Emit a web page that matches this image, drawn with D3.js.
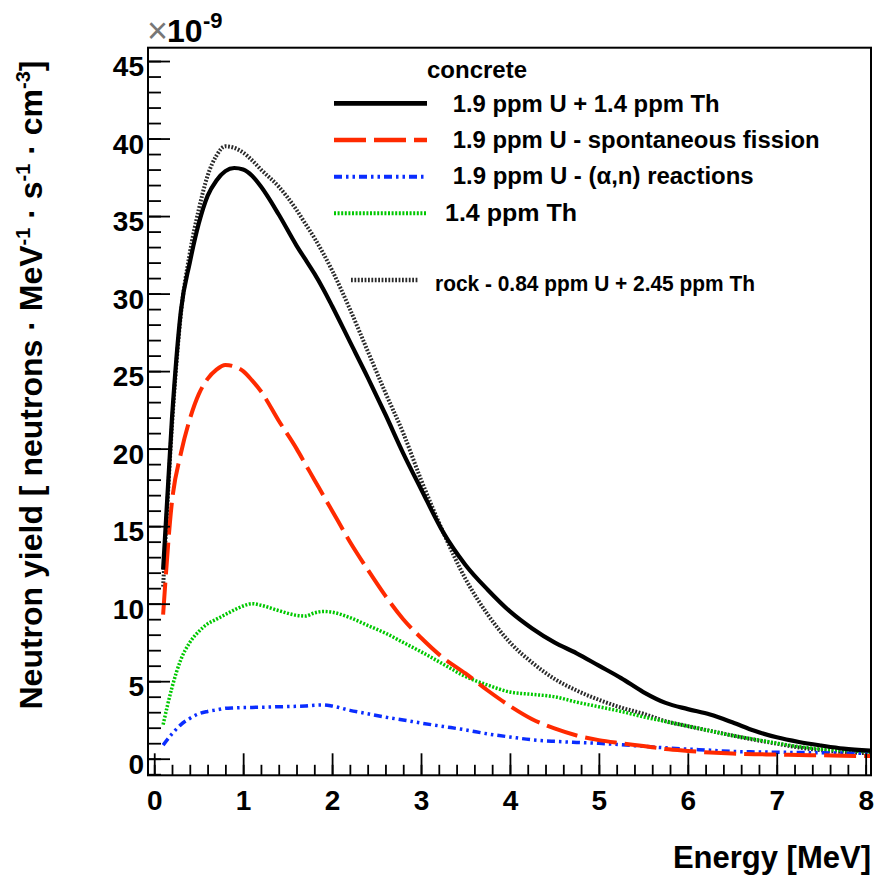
<!DOCTYPE html>
<html>
<head>
<meta charset="utf-8">
<script src="https://cdn.jsdelivr.net/npm/d3@7"></script>
<style>
  body { margin: 0; background: #fff; }
  text { font-family: "Liberation Sans", Arial, Helvetica, sans-serif; }
</style>
</head>
<body>
<div id="chart"></div>
<script>
// energy grid in MeV, values in 1e-9 neutrons / (MeV s cm^3)
const energy = [0.1, 0.2, 0.3, 0.4, 0.5, 0.6, 0.7, 0.8, 0.9, 1.0, 1.1, 1.2, 1.4, 1.6, 1.7, 1.8, 1.9, 2.0,
  2.2, 2.4, 2.6, 2.8, 3.0, 3.25, 3.5, 3.75, 4.0, 4.25, 4.5, 4.75, 5.0, 5.25, 5.5, 5.75, 6.0, 6.25,
  6.5, 6.75, 7.0, 7.25, 7.5, 7.75, 8.05]

const concreteTotal = [12.2, 22.0, 28.9, 32.0, 34.5, 36.3, 37.3, 37.9, 38.1, 38.0, 37.6, 36.9, 35.1, 33.1, 32.2, 31.3, 30.3, 29.2,
  26.9, 24.6, 22.2, 19.7, 17.4, 14.6, 12.5, 10.9, 9.5, 8.4, 7.5, 6.8, 6.0, 5.2, 4.3, 3.6, 3.2, 2.85,
  2.35, 1.8, 1.38, 1.08, 0.85, 0.65, 0.52]

const spontFission = [9.3, 16.6, 19.7, 21.9, 23.5, 24.5, 25.1, 25.4, 25.3, 25.0, 24.4, 23.7, 21.8, 20.0, 19.0, 18.0, 17.0, 16.0,
  14.0, 12.2, 10.5, 9.0, 7.8, 6.5, 5.5, 4.4, 3.4, 2.55, 1.95, 1.5, 1.2, 1.0, 0.82, 0.62, 0.5, 0.4,
  0.33, 0.29, 0.27, 0.24, 0.22, 0.19, 0.17]

const alphaN = [0.88, 1.6, 2.2, 2.6, 2.9, 3.05, 3.15, 3.25, 3.28, 3.3, 3.31, 3.32, 3.35, 3.38, 3.4, 3.45, 3.47, 3.4,
  3.12, 2.9, 2.68, 2.5, 2.3, 2.08, 1.86, 1.6, 1.4, 1.22, 1.12, 1.05, 0.99, 0.9, 0.8, 0.7, 0.62, 0.55,
  0.47, 0.44, 0.42, 0.4, 0.38, 0.36, 0.35]

const thorium = [2.2, 4.6, 6.4, 7.5, 8.2, 8.7, 9.0, 9.3, 9.6, 9.85, 10.0, 9.9, 9.55, 9.25, 9.2, 9.4, 9.5, 9.45,
  9.1, 8.6, 8.1, 7.5, 6.9, 6.1, 5.3, 4.75, 4.3, 4.15, 4.0, 3.65, 3.35, 3.05, 2.7, 2.4, 2.1, 1.8,
  1.5, 1.25, 1.0, 0.78, 0.62, 0.52, 0.45]

const rock = [11.1, 21.5, 28.7, 32.6, 35.4, 37.6, 38.9, 39.5, 39.4, 39.1, 38.6, 38.0, 36.9, 35.4, 34.5, 33.6, 32.6, 31.5,
  29.0, 26.3, 23.6, 21.0, 18.0, 14.6, 11.6, 9.3, 7.5, 6.2, 5.15, 4.4, 3.8, 3.3, 2.9, 2.42, 2.1, 1.8,
  1.5, 1.22, 0.97, 0.72, 0.55, 0.43, 0.35]

const xTicks = [0, 1, 2, 3, 4, 5, 6, 7, 8]
const yTicks = [0, 5, 10, 15, 20, 25, 30, 35, 40, 45]

const W = 874, H = 877
const frame = {left: 148, right: 871, top: 47.7, bottom: 775.3}

const svg = d3.select("#chart")
  .append("svg")
  .attr("width", W)
  .attr("height", H)

const x = d3.scaleLinear().domain([-0.07, 8.06]).range([frame.left, frame.right])
const y = d3.scaleLinear().domain([-1.07, 45.86]).range([frame.bottom, frame.top])

// series styles
const series = [
  {key: "rock", values: rock, color: "#2a2a2a", width: 4, dash: "1.8,1.6"},
  {key: "th", values: thorium, color: "#00c800", width: 3.5, dash: "2,1.6"},
  {key: "an", values: alphaN, color: "#0a2dff", width: 3.5, dash: "8,4,2.5,4,2.5,4"},
  {key: "sf", values: spontFission, color: "#ff2a00", width: 4, dash: "32,8"},
  {key: "total", values: concreteTotal, color: "#000", width: 4.2, dash: null}
]

svg.append("clipPath").attr("id", "clip")
  .append("rect")
  .attr("x", frame.left).attr("y", frame.top)
  .attr("width", frame.right - frame.left).attr("height", frame.bottom - frame.top)

const line = d3.line()
  .x((d, i) => x(energy[i]))
  .y(d => y(d))
  .curve(d3.curveMonotoneX)

const plot = svg.append("g").attr("clip-path", "url(#clip)")
series.forEach(s => {
  plot.append("path")
    .datum(s.values)
    .attr("fill", "none")
    .attr("stroke", s.color)
    .attr("stroke-width", s.width)
    .attr("stroke-dasharray", s.dash)
    .attr("d", line)
})

// x axis: ticks inside the frame, labels below
svg.append("g")
  .attr("transform", `translate(0,${frame.bottom})`)
  .call(d3.axisBottom(x).tickValues(d3.range(0, 8.01, 0.2)).tickSizeInner(-10.5).tickSizeOuter(0).tickFormat(""))
  .call(g => g.select(".domain").remove())
  .selectAll("line").attr("stroke-width", 1.8)

svg.append("g")
  .attr("transform", `translate(0,${frame.bottom})`)
  .call(d3.axisBottom(x).tickValues(xTicks).tickSizeInner(-22).tickSizeOuter(0).tickPadding(15).tickFormat(d3.format("d")))
  .call(g => g.select(".domain").remove())
  .call(g => g.selectAll("line").attr("stroke-width", 1.8))
  .selectAll("text")
    .attr("fill", "#000")
    .style("font-size", "28px")
    .style("font-weight", "bold")

// y axis
svg.append("g")
  .attr("transform", `translate(${frame.left},0)`)
  .call(d3.axisLeft(y).tickValues(d3.range(-1, 46, 1)).tickSizeInner(-13).tickSizeOuter(0).tickFormat(""))
  .call(g => g.select(".domain").remove())
  .selectAll("line").attr("stroke-width", 1.8)

svg.append("g")
  .attr("transform", `translate(${frame.left},0)`)
  .call(d3.axisLeft(y).tickValues(yTicks).tickSizeInner(-22).tickSizeOuter(0).tickPadding(4).tickFormat(d3.format("d")))
  .call(g => g.select(".domain").remove())
  .call(g => g.selectAll("line").attr("stroke-width", 1.8))
  .selectAll("text")
    .attr("fill", "#000")
    .attr("dy", "0.52em")
    .style("font-size", "28px")
    .style("font-weight", "bold")

// frame
svg.append("rect")
  .attr("x", frame.left).attr("y", frame.top)
  .attr("width", frame.right - frame.left).attr("height", frame.bottom - frame.top)
  .attr("fill", "none")
  .attr("stroke", "#000")
  .attr("stroke-width", 2)

// exponent
svg.append("text")
  .attr("x", 147).attr("y", 43)
  .style("font-size", "36px")
  .attr("fill", "#777")
  .text("×")
svg.append("text")
  .attr("x", 167).attr("y", 41.7)
  .style("font-size", "32px")
  .style("font-weight", "bold")
  .text("10")
svg.append("text")
  .attr("x", 203).attr("y", 28)
  .style("font-size", "22px")
  .style("font-weight", "bold")
  .text("-9")

// axis titles
svg.append("text")
  .attr("x", 871).attr("y", 868)
  .attr("text-anchor", "end")
  .style("font-size", "31px")
  .style("font-weight", "bold")
  .text("Energy [MeV]")

const yTitle = svg.append("text")
  .attr("transform", "translate(42,385) rotate(-90)")
  .attr("text-anchor", "middle")
  .style("font-size", "32px")
  .style("font-weight", "bold")
yTitle.append("tspan").text("Neutron yield  [ neutrons · MeV")
yTitle.append("tspan").attr("dy", -12).style("font-size", "20px").text("-1")
yTitle.append("tspan").attr("dy", 12).text(" · s")
yTitle.append("tspan").attr("dy", -12).style("font-size", "20px").text("-1")
yTitle.append("tspan").attr("dy", 12).text(" · cm")
yTitle.append("tspan").attr("dy", -12).style("font-size", "20px").text("-3")
yTitle.append("tspan").attr("dy", 12).text("]")

// legend
const legendRows = [
  {label: "1.9 ppm U + 1.4 ppm Th", s: series[4], x1: 334, x2: 427, ly: 103.3, tx: 452.7, ty: 111.7, len: 267, fs: 23.5},
  {label: "1.9 ppm U - spontaneous fission", s: series[3], x1: 334, x2: 427, ly: 140, tx: 452.7, ty: 148.3, len: 367, fs: 23.5},
  {label: "1.9 ppm U - (α,n) reactions", s: series[2], x1: 334, x2: 427, ly: 176.7, tx: 452.7, ty: 184, len: 301, fs: 23.5},
  {label: "1.4 ppm  Th", s: series[1], x1: 334, x2: 427, ly: 213.3, tx: 445, ty: 221, len: 132, fs: 23.5},
  {label: "rock - 0.84 ppm U + 2.45 ppm Th", s: series[0], x1: 351, x2: 419, ly: 280, tx: 435, ty: 290.7, len: 320, fs: 21.5}
]

svg.append("text")
  .attr("x", 427).attr("y", 78.3)
  .style("font-size", "23px")
  .style("font-weight", "bold")
  .attr("textLength", 100)
  .attr("lengthAdjust", "spacingAndGlyphs")
  .text("concrete")

legendRows.forEach(r => {
  svg.append("line")
    .attr("x1", r.x1).attr("x2", r.x2)
    .attr("y1", r.ly).attr("y2", r.ly)
    .attr("stroke", r.s.color)
    .attr("stroke-width", r.s.width + 0.5)
    .attr("stroke-dasharray", r.s.dash)
  svg.append("text")
    .attr("x", r.tx).attr("y", r.ty)
    .style("font-size", r.fs + "px")
    .style("font-weight", "bold")
    .attr("textLength", r.len)
    .attr("lengthAdjust", "spacingAndGlyphs")
    .text(r.label)
})
</script>
</body>
</html>
